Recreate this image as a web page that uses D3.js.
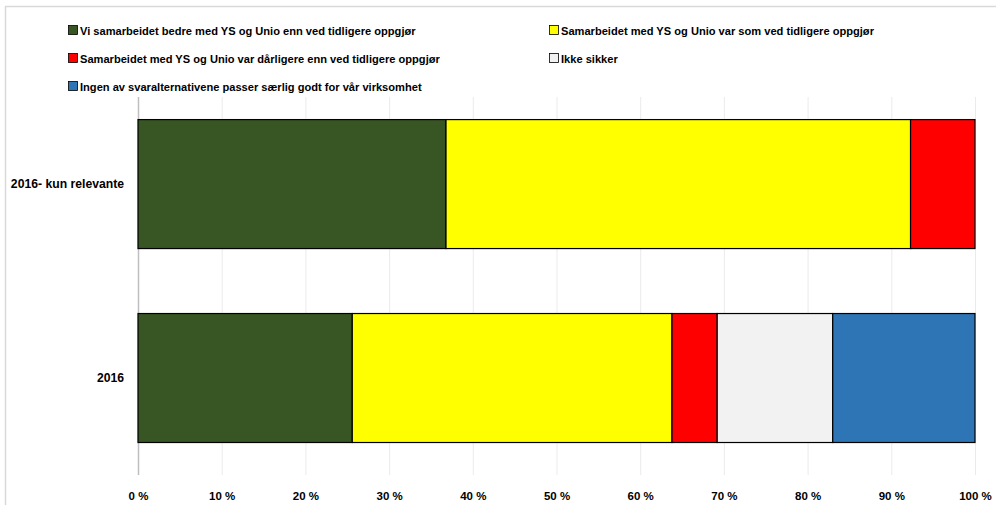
<!DOCTYPE html>
<html>
<head>
<meta charset="utf-8">
<script src="https://d3js.org/d3.v7.min.js"></script>
<style>
  body { margin: 0; background: #fff; }
  text { font-family: "Liberation Sans", sans-serif; font-weight: bold; fill: #000; }
</style>
</head>
<body>
<svg id="chart" width="996" height="505"></svg>
<script>
// categories, top to bottom
var categories = ["2016- kun relevante", "2016"];
var seriesNames = [
  "Vi samarbeidet bedre med YS og Unio enn ved tidligere oppgjør",
  "Samarbeidet med YS og Unio var som ved tidligere oppgjør",
  "Samarbeidet med YS og Unio var dårligere enn ved tidligere oppgjør",
  "Ikke sikker",
  "Ingen av svaralternativene passer særlig godt for vår virksomhet"
];
var seriesColors = ["#375623", "#ffff00", "#ff0000", "#f2f2f2", "#2e75b6"];
// percent values per series, in category order
var bedre    = [36.8, 25.6];
var som      = [55.5, 38.2];
var darligere= [7.7, 5.4];
var ikke     = [0, 13.8];
var ingen    = [0, 17.0];
var ticks = [0, 10, 20, 30, 40, 50, 60, 70, 80, 90, 100];

var svg = d3.select("#chart");
var W = 996, H = 505;
var margin = {left: 138, right: 21, top: 97, bottom: 30};

// outer chart border
svg.append("rect").attr("x", 5.5).attr("y", 6.5).attr("width", W + 10).attr("height", H + 10)
  .attr("fill", "none").attr("stroke", "#d9d9d9").attr("stroke-width", 1.5);

var x = d3.scaleLinear().domain([0, 100]).range([margin.left, W - margin.right]);
var y = d3.scaleBand().domain(categories).range([margin.top, 475])
  .paddingInner(0.335).paddingOuter(0.142).align(0.41);

// gridlines
svg.append("g").selectAll("line").data(ticks).enter().append("line")
  .attr("x1", d => x(d) + 0.5).attr("x2", d => x(d) + 0.5)
  .attr("y1", margin.top).attr("y2", 475)
  .attr("stroke", d => d == 0 ? "#bfbfbf" : "#ebebeb").attr("stroke-width", d => d == 0 ? 1.5 : 1);

var allSeries = [bedre, som, darligere, ikke, ingen];
var rows = categories.map(function(c, i) {
  var r = {cat: c};
  seriesNames.forEach(function(s, j) { r[s] = allSeries[j][i]; });
  return r;
});
var stacked = d3.stack().keys(seriesNames)(rows);

svg.append("g").selectAll("g").data(stacked).enter().append("g")
  .attr("fill", (d, i) => seriesColors[i])
  .selectAll("rect").data(d => d.filter(p => p[1] - p[0] > 0)).enter().append("rect")
    .attr("x", d => x(d[0]))
    .attr("y", d => y(d.data.cat))
    .attr("width", d => x(d[1]) - x(d[0]))
    .attr("height", y.bandwidth())
    .attr("stroke", "#000").attr("stroke-width", 1.2);

// x axis labels
svg.append("g").attr("transform", "translate(0,497)")
  .call(d3.axisBottom(x).tickValues(ticks).tickSize(0).tickFormat(d => d + " %"))
  .call(g => g.select(".domain").remove())
  .selectAll("text").attr("dy", 0).attr("font-size", 11.5);

// category labels
svg.append("g").selectAll("text").data(categories).enter().append("text")
  .attr("x", 124).attr("y", d => y(d) + y.bandwidth() / 2 + 4)
  .attr("text-anchor", "end").attr("font-size", 12.2).text(d => d);

// legend
var legendPos = [[68, 30], [549, 30], [68, 58], [549, 58], [68, 86]];
var lg = svg.append("g").selectAll("g").data(seriesNames).enter().append("g")
  .attr("transform", (d, i) => "translate(" + legendPos[i][0] + "," + legendPos[i][1] + ")");
lg.append("rect").attr("x", 0.5).attr("y", -4.5).attr("width", 9).attr("height", 9)
  .attr("fill", (d, i) => seriesColors[i]).attr("stroke", "#000").attr("stroke-width", 0.8);
lg.append("text").attr("x", 12).attr("y", 4.5).attr("font-size", 11.1).text(d => d);
</script>
</body>
</html>
